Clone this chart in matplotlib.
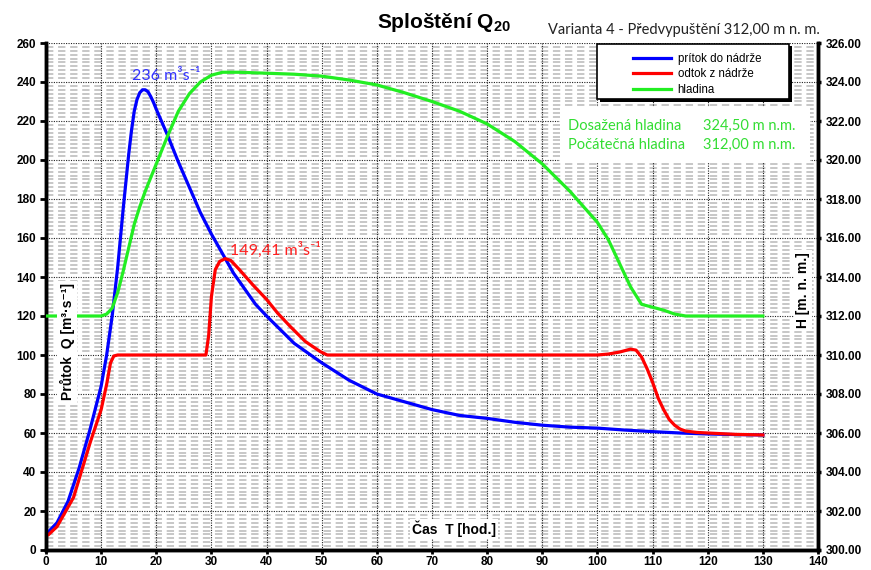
import matplotlib.pyplot as plt
from matplotlib.patches import Rectangle

plt.rcParams['font.family'] = ['Liberation Sans', 'DejaVu Sans']
plt.rcParams['mathtext.fontset'] = 'custom'
plt.rcParams['mathtext.rm'] = 'Liberation Sans:bold'
plt.rcParams['mathtext.bf'] = 'Liberation Sans:bold'

# inflow hydrograph [m3/s]
t_in = [0, 2, 4, 6, 8, 10, 11, 12, 13, 14, 15, 15.5, 16, 16.5, 17, 17.5, 18, 18.5,
        19, 19.5, 20, 21, 22, 24, 26, 28, 30, 32, 34, 36, 38, 40, 45, 50, 55, 60,
        65, 70, 75, 80, 85, 90, 95, 100, 105, 110, 115, 120, 125, 130]
q_in = [8, 14, 25, 42, 62, 84, 100, 120, 145, 175, 203, 215, 225, 231, 234.5, 236,
        236, 235, 232.5, 229.5, 226, 219.5, 213, 199, 186, 173, 162, 152, 142, 134,
        126, 120, 106, 96, 87, 80, 76, 72, 69, 67.5, 65.5, 64, 63, 62.5, 61.5,
        60.7, 60, 59.5, 59.2, 59]

# outflow from the reservoir [m3/s]
t_out = [0.5, 2, 5, 8, 10, 11, 11.7, 12.3, 13, 20, 28, 29, 29.5, 30, 30.7, 31.5,
         32.5, 33.5, 35, 37.5, 40, 42, 44.3, 47, 49.7, 51, 60, 80, 100, 102, 104,
         106, 107, 108, 109, 110, 111, 112, 113, 114, 115, 116, 118, 120, 125, 130]
q_out = [8, 12, 27, 55, 72, 85, 96, 99.5, 100, 100, 100, 100, 110, 130, 143.8,
         148, 149.41, 148.5, 144, 136, 128.5, 121.5, 114.6, 107, 101.8, 100, 100,
         100, 100, 100.5, 101.5, 103, 102.5, 99, 93, 86, 78, 72, 67, 64, 62, 61,
         60.3, 60, 59.3, 59]

# water level in the reservoir [m n. m.]
t_h = [0, 5, 10, 11, 12, 13, 14, 15, 16, 17, 18, 19, 20, 22, 24, 26, 28, 30, 32,
       35, 40, 45, 50, 55, 60, 65, 70, 75, 80, 85, 90, 95, 100, 102, 104, 106, 108,
       110, 112, 114, 116, 120, 130]
h = [312, 312, 312, 312.1, 312.4, 313.2, 314.3, 315.5, 316.7, 317.6, 318.4, 319.1,
     319.8, 321.2, 322.5, 323.4, 324.0, 324.35, 324.5, 324.5, 324.45, 324.4, 324.3,
     324.1, 323.85, 323.45, 323.0, 322.5, 321.85, 320.95, 319.8, 318.4, 316.8,
     315.9, 314.7, 313.5, 312.6, 312.45, 312.3, 312.1, 312.0, 312.0, 312.0]

W, H = 871, 570
fig = plt.figure(figsize=(W / 100, H / 100), dpi=100)
ax = fig.add_axes([46 / W, 1 - 550 / H, (818 - 46) / W, (550 - 43) / H])
ax2 = ax.twinx()

ax.set_xlim(0, 140)
ax.set_ylim(0, 260)
ax2.set_ylim(300, 326)

# light dashed minor lines every 2 m3/s
for y in range(2, 260, 2):
    if y % 20:
        ax.plot([0, 140], [y, y], color='#b8b8b8', lw=1.1,
                dashes=(4.8, 3.1), dash_capstyle='butt', zorder=0.5)
# dotted major grid
for y in range(20, 261, 20):
    ax.plot([0, 140], [y, y], color='#222222', lw=0.8, ls=(0, (1, 1.2)), zorder=0.6)
for x in range(10, 141, 10):
    ax.plot([x, x], [0, 260], color='#222222', lw=0.8, ls=(0, (1, 1.2)), zorder=0.6)

l1, = ax.plot(t_in, q_in, color='#0000ff', lw=2.3, zorder=3, label='prítok do nádrže')
l2, = ax.plot(t_out, q_out, color='#ff0000', lw=2.3, zorder=3, label='odtok z nádrže')
l3, = ax2.plot(t_h, h, color='#22ee22', lw=2.3, zorder=3, label='hladina')

ax.set_xticks(range(0, 141, 10))
ax.set_yticks(range(0, 261, 20))
ax2.set_yticks(range(300, 327, 2))
ax2.set_yticklabels(['%.2f' % v for v in range(300, 327, 2)])
for a in (ax, ax2):
    a.tick_params(labelsize=8.5, width=2, length=4, direction='out', pad=3)
    for lab in a.get_xticklabels() + a.get_yticklabels():
        lab.set_fontweight('bold')
ax.tick_params(axis='x', length=3, pad=1)
ax2.tick_params(width=2.5, length=2.5)

for a in (ax, ax2):
    a.spines['top'].set_visible(False)
    for s in ('left', 'right', 'bottom'):
        a.spines[s].set_linewidth(2.5)

# peak labels
ax.text(15.6, 243, '236 m³s⁻¹', color='#3333ff', fontsize=11.5,
        family=['Lato', 'DejaVu Sans'], va='center', ha='left', zorder=5)
ax.text(33.4, 154, '149,41 m³s⁻¹', color='#ff2222', fontsize=11.5,
        family=['Lato', 'DejaVu Sans'], va='center', ha='left', zorder=5)

# title and subtitle
fig.text(444 / W, 1 - 22 / H, r'Sploštění Q$_{\mathbf{20}}$', fontsize=15,
         fontweight='bold', ha='center', va='center')
fig.text(548 / W, 1 - 30 / H, 'Varianta 4 - Předvypuštění 312,00 m n. m.',
         fontsize=10.5, family=['Lato', 'DejaVu Sans'], color='#222222',
         ha='left', va='center')

# axis labels inside the plot area
box = dict(facecolor='white', edgecolor='none', pad=1.5)
fig.text(67 / W, 1 - 342 / H, 'Průtok  Q [m³·s⁻¹]', rotation=90, fontsize=10,
         fontweight='bold', ha='center', va='center', bbox=box)
fig.text(803 / W, 1 - 290 / H, 'H [m. n. m.]', rotation=90, fontsize=10,
         fontweight='bold', ha='center', va='center', bbox=box)
fig.text(454 / W, 1 - 529 / H, 'Čas  T [hod.]', fontsize=10,
         fontweight='bold', ha='center', va='center', bbox=box)

# summary of reached and initial water level
fig.patches.append(Rectangle((560 / W, 1 - 162 / H), 250 / W, 55 / H,
                             transform=fig.transFigure, facecolor='white',
                             edgecolor='none', zorder=2))
green_txt = dict(fontsize=10.5, color='#33dd33', family=['Lato', 'DejaVu Sans'],
                 va='center', ha='left')
fig.text(568 / W, 1 - 126 / H, 'Dosažená hladina', **green_txt)
fig.text(703 / W, 1 - 126 / H, '324,50 m n.m.', **green_txt)
fig.text(568 / W, 1 - 145 / H, 'Počátečná hladina', **green_txt)
fig.text(703 / W, 1 - 145 / H, '312,00 m n.m.', **green_txt)

# legend frame with a solid black shadow
fig.patches.append(Rectangle((600 / W, 1 - 102 / H), 192 / W, 56 / H,
                             transform=fig.transFigure, facecolor='black',
                             edgecolor='none', zorder=5))
fig.patches.append(Rectangle((597 / W, 1 - 99 / H), 192 / W, 55 / H,
                             transform=fig.transFigure, facecolor='white',
                             edgecolor='black', lw=1.2, zorder=5.5))
leg = fig.legend(handles=[l1, l2, l3], loc='upper left',
                 bbox_to_anchor=(624 / W, 1 - 44 / H), fontsize=8.3,
                 handlelength=3.3, handletextpad=0.6, borderpad=0.25,
                 labelspacing=0.3, frameon=False)
leg.set_zorder(6)

fig.savefig('out.png', dpi=100)
